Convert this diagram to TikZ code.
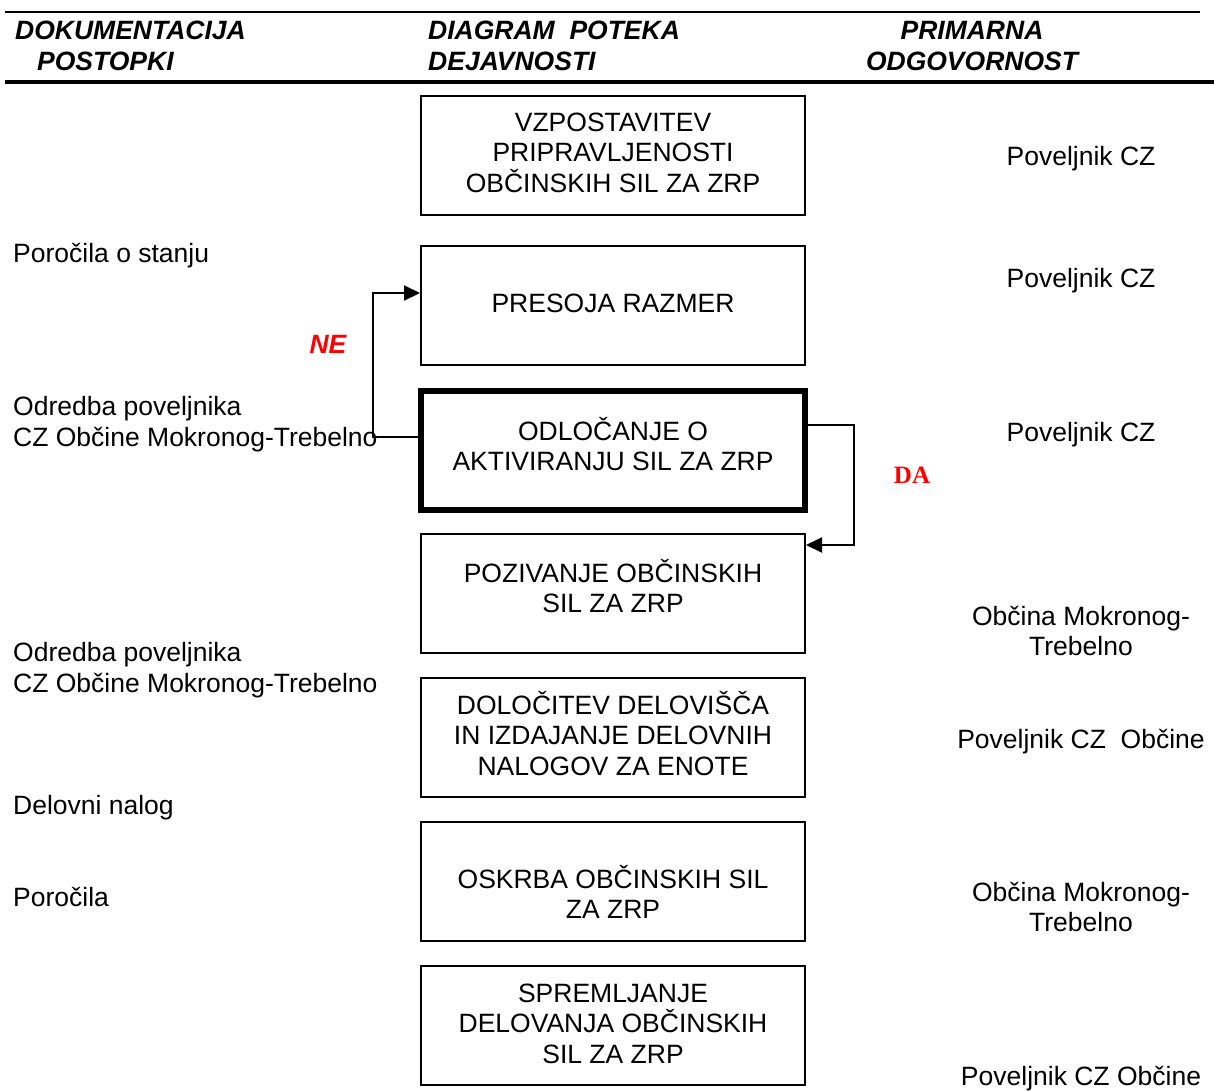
\documentclass[tikz,border=0pt]{standalone}
\usepackage{fontspec}
\setmainfont{Liberation Sans}
\newfontfamily\timesfont{Liberation Serif}
\usetikzlibrary{arrows.meta}
\newcommand{\boxfont}{\fontsize{26.5}{30.5}\selectfont}
\newcommand{\headfont}{\fontsize{26.5}{31}\selectfont\bfseries\itshape}
\tikzset{
  box/.style={draw, line width=2pt, minimum width=384pt, minimum height=119pt,
    inner sep=0pt, align=center, font=\boxfont, text depth=0pt},
  thickbox/.style={box, line width=5.5pt},
  doc/.style={anchor=west, align=left, inner sep=0pt, font=\boxfont},
  resp/.style={align=center, inner sep=0pt, font=\boxfont},
  head/.style={align=left, inner sep=0pt, font=\headfont},
  flow/.style={line width=2pt},
  answer/.style={text=red, inner sep=0pt},
}

\begin{document}
\begin{tikzpicture} [x=1pt, y=-1pt, >={Triangle[length=16pt,width=15pt]}]
\useasboundingbox (0,0) rectangle (1214,1090);
% header
\draw[line width=1.5pt] (5,12) -- (1200,12);
\node[head, anchor=west] (hdoc) at (15,45.5) {DOKUMENTACIJA\\\hspace*{22pt}POSTOPKI};
\node[head, anchor=west] (hdia) at (428,45.5) {DIAGRAM~~POTEKA\\DEJAVNOSTI};
\node[head, align=center] (hodg) at (972,46.5) {PRIMARNA\\ODGOVORNOST};
\draw[line width=4pt] (5,82) -- (1214,82);

% flow boxes
\node[box, text height=73pt] (vzp) at (613,155.5) {VZPOSTAVITEV\\PRIPRAVLJENOSTI\\OBČINSKIH SIL ZA ZRP};
\node[box, text height=14pt] (pres) at (613,305.5) {PRESOJA RAZMER};
\node[thickbox, text height=40.5pt] (odl) at (613,450.5) {ODLOČANJE O\\AKTIVIRANJU SIL ZA ZRP};
\node[box, text height=38.5pt] (poz) at (613,593.5) {POZIVANJE OBČINSKIH\\SIL ZA ZRP};
\node[box, text height=75pt] (dol) at (613,737.5) {DOLOČITEV DELOVIŠČA\\IN IZDAJANJE DELOVNIH\\NALOGOV ZA ENOTE};
\node[box, text height=74.5pt] (oskr) at (613,881.5) {OSKRBA OBČINSKIH SIL\\ZA ZRP};
\node[box, text height=75pt] (spr) at (613,1025.5) {SPREMLJANJE\\DELOVANJA OBČINSKIH\\SIL ZA ZRP};

% documentation
\node[doc] (d1) at (13,256) {Poročila o stanju};
\node[doc] (d2) at (13,424) {Odredba poveljnika\\CZ Občine Mokronog-Trebelno};
\node[doc] (d3) at (13,670) {Odredba poveljnika\\CZ Občine Mokronog-Trebelno};
\node[doc] (d4) at (13,808) {Delovni nalog};
\node[doc] (d5) at (13,897) {Poročila};

% responsibility
\node[resp] (r1) at (1081,159) {Poveljnik CZ};
\node[resp] (r2) at (1081,281) {Poveljnik CZ};
\node[resp] (r3) at (1081,435) {Poveljnik CZ};
\node[resp] (r4) at (1081,631) {Občina Mokronog-\\Trebelno};
\node[resp] (r5) at (1081,742) {Poveljnik CZ~~Občine};
\node[resp] (r6) at (1081,907) {Občina Mokronog-\\Trebelno};
\node[resp] (r7) at (1081,1078.5) {Poveljnik CZ Občine};

% decisions
\draw[flow,->] ([yshift=13.5pt]odl.west) -- ++(-45.25,0) |- ([yshift=12.5pt]pres.west);
\node[answer, font=\fontsize{26.5}{30}\selectfont\bfseries\itshape] (ne) at (328,344) {NE};
\draw[flow,->] ([yshift=25.5pt]odl.east) -- ++(46.25,0) |- ([yshift=48.5pt]poz.east);
\node[answer, font=\timesfont\fontsize{25}{30}\selectfont\bfseries] (da) at (912,475) {DA};
\end{tikzpicture}
\end{document}
